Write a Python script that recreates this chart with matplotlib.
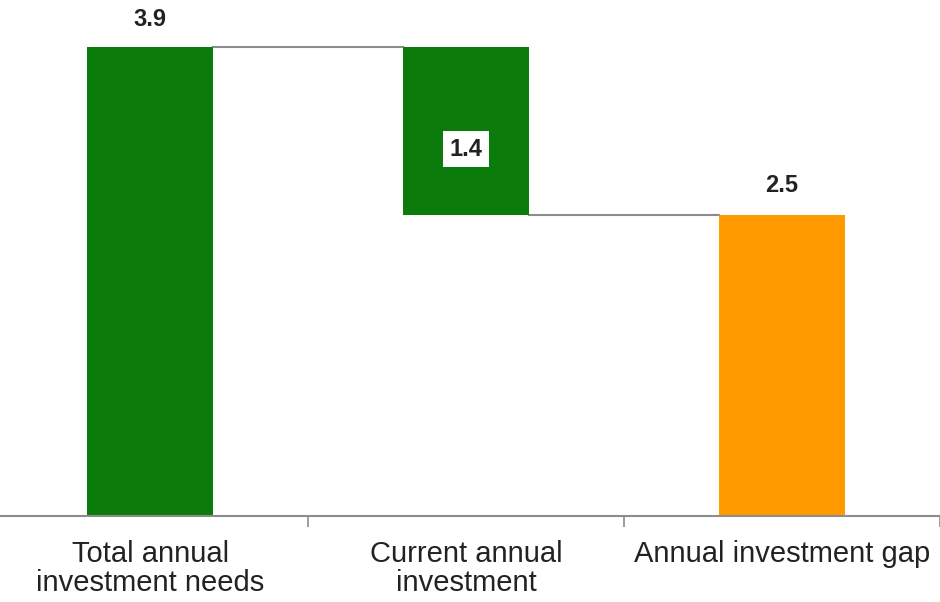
import matplotlib
matplotlib.use("Agg")
import matplotlib.pyplot as plt
import numpy as np

plt.rcParams["font.family"] = ["Liberation Sans", "DejaVu Sans"]

categories = ["Total annual\ninvestment needs", "Current annual\ninvestment", "Annual investment gap"]
values = [3.9, 1.4, 2.5]          # trillion, as labelled
bottoms = [0.0, 2.5, 0.0]
colors = ["#0B7C0B", "#0B7C0B", "#FF9A00"]

GREY = "#8C8C8C"

fig = plt.figure(figsize=(9.4, 6.02), dpi=100)
ax = fig.add_axes([0.0, 0.143, 1.0, 0.857])

x = np.arange(len(categories))
w = 0.4
ax.bar(x, values, bottom=bottoms, width=w, color=colors, zorder=2)

# connector lines between bars
tops = [b + v for b, v in zip(bottoms, values)]
ax.plot([x[0] + w / 2, x[1] - w / 2], [tops[0], tops[0]], color=GREY, lw=1.5, zorder=1)
ax.plot([x[1] + w / 2, x[2] - w / 2], [bottoms[1], bottoms[1]], color=GREY, lw=1.5, zorder=1)

# value labels
lab = dict(ha="center", va="center", fontsize=17, fontweight="bold", color="#222")
ax.text(x[0], tops[0] + 0.23, f"{values[0]:.1f}", **lab)
ax.text(x[2], tops[2] + 0.25, f"{values[2]:.1f}", **lab)
ax.text(x[1], bottoms[1] + 0.55, f"{values[1]:.1f}",
        bbox=dict(facecolor="white", edgecolor="none", pad=5), **lab)

ax.set_xlim(-0.475, 2.5)
ax.set_ylim(0, 4.29)
ax.set_yticks([])
for s in ("top", "right", "left"):
    ax.spines[s].set_visible(False)
ax.spines["bottom"].set_color(GREY)
ax.spines["bottom"].set_linewidth(1.5)

ax.set_xticks(x)
ax.set_xticklabels(categories, fontsize=21, color="#222", linespacing=1.05)
ax.tick_params(axis="x", which="major", length=0, pad=17)
ax.set_xticks([0.5, 1.5, 2.5], minor=True)
ax.tick_params(axis="x", which="minor", length=8, width=1.2, color=GREY)

fig.savefig("out.png", dpi=100)
